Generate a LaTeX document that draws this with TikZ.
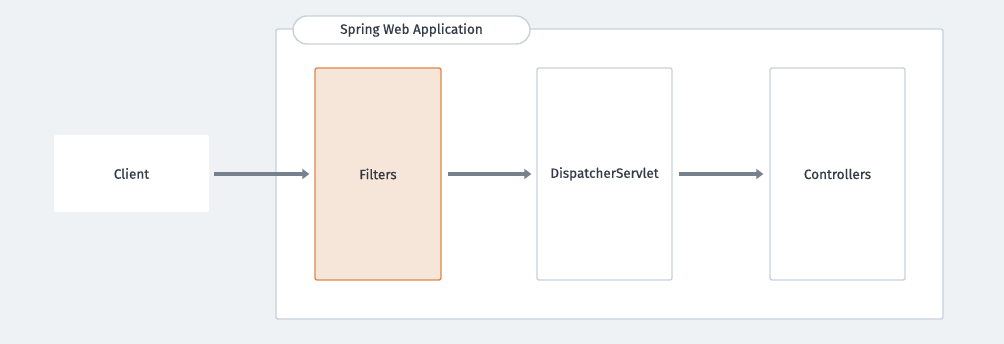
\documentclass[tikz,border=0pt]{standalone}
\usepackage{fontspec}
\newfontfamily\labelfont{Fira Sans}[FakeBold=0.6]
\usetikzlibrary{arrows.meta}
\definecolor{bg}{HTML}{EEF2F5}
\definecolor{edge}{HTML}{C9D1DB}
\definecolor{ink}{HTML}{333B47}
\definecolor{arrowc}{HTML}{77818E}
\definecolor{filterfill}{HTML}{F6E6DA}
\definecolor{filteredge}{HTML}{E0874A}
\tikzset{
  lbl/.style={font=\labelfont\fontsize{13.5}{15}\selectfont, text=ink},
  stagebox/.style={draw=edge, line width=1.4pt, fill=white, rounded corners=2pt, minimum width=135pt, minimum height=212pt, lbl},
  flow/.style={draw=arrowc, line width=3.2pt, -{Triangle[length=7pt,width=10pt]}},
}
\begin{document}
\begin{tikzpicture}[x=1pt,y=-1pt]
\fill[bg] (0,0) rectangle (1004,344);
\useasboundingbox (0,0) rectangle (1004,344);
% application container
\node[draw=edge, line width=1.4pt, fill=white, rounded corners=2pt, minimum width=667pt, minimum height=290pt] (app) at (609.5,174) {};
\node[draw=edge, line width=1.4pt, fill=white, rounded corners=14pt, minimum width=237pt, minimum height=28pt, lbl] (title) at (411.5,30) {Spring Web Application};
% client
\node[fill=white, rounded corners=2pt, minimum width=155pt, minimum height=77pt, lbl] (client) at (131.5,173.5) {Client};
% stages
\node[stagebox, draw=filteredge, fill=filterfill, minimum width=126pt] (filters) at (378,174) {Filters};
\node[stagebox] (dispatcher) at (604.5,174) {DispatcherServlet};
\node[stagebox] (controllers) at (837.5,174) {Controllers};
% request flow
\draw[flow] ([xshift=5pt]client.east |- 0,174) -- ([xshift=-5pt]filters.west);
\draw[flow] ([xshift=6pt]filters.east) -- ([xshift=-5pt]dispatcher.west);
\draw[flow] ([xshift=6pt]dispatcher.east) -- ([xshift=-6pt]controllers.west);
\end{tikzpicture}
\end{document}
